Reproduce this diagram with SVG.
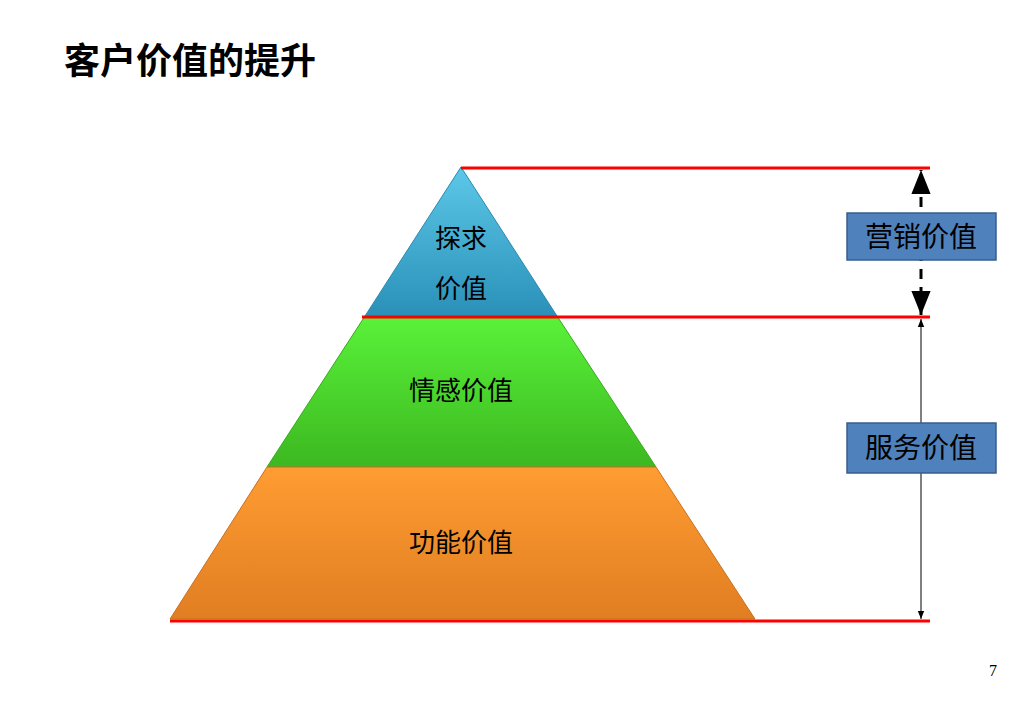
<svg xmlns="http://www.w3.org/2000/svg" width="1024" height="709" viewBox="0 0 1024 709">
<style>
.t{font-family:"Liberation Sans","Noto Sans CJK SC",sans-serif;fill:#000}
.red{stroke:#ff0000;stroke-width:3}
.box{fill:#4f81bd;stroke:#385d8a;stroke-width:1.5}
</style>
<defs>
<linearGradient id="gb" x1="0" y1="0" x2="0" y2="1"><stop offset="0" stop-color="#5cc8e8"/><stop offset="1" stop-color="#2a90b8"/></linearGradient>
<linearGradient id="gg" x1="0" y1="0" x2="0" y2="1"><stop offset="0" stop-color="#5af23a"/><stop offset="1" stop-color="#3cb820"/></linearGradient>
<linearGradient id="go" x1="0" y1="0" x2="0" y2="1"><stop offset="0" stop-color="#ff9c32"/><stop offset="1" stop-color="#e07e22"/></linearGradient>
<marker id="a" viewBox="0 0 10 10" refX="10" refY="5" markerWidth="8" markerHeight="8" orient="auto-start-reverse"><path d="M0,1 L10,5 L0,9 z" fill="#000"/></marker>
</defs>
<rect width="1024" height="709" fill="#fff"/>
<text x="64" y="74" class="t" font-size="36" font-weight="bold">客户价值的提升</text>
<g id="top"><polygon points="461,167 365,316 557,316" fill="url(#gb)" stroke="#2a8ab0"/><text x="461" y="248" class="t" font-size="26" text-anchor="middle">探求</text><text x="461" y="298" class="t" font-size="26" text-anchor="middle">价值</text></g>
<g id="mid"><polygon points="365,316 557,316 656,467 267,467" fill="url(#gg)" stroke="#38a820"/><text x="461" y="400" class="t" font-size="26" text-anchor="middle">情感价值</text></g>
<g id="bot"><polygon points="267,467 656,467 755,619 170,619" fill="url(#go)" stroke="#c87020"/><text x="461" y="552" class="t" font-size="26" text-anchor="middle">功能价值</text></g>
<g id="connectors">
<line class="red" x1="461" y1="168" x2="930" y2="168"/>
<line class="red" x1="362" y1="317" x2="930" y2="317"/>
<line class="red" x1="170" y1="621" x2="930" y2="621"/>
<line x1="921" y1="315" x2="921" y2="170" stroke="#000" stroke-width="3" stroke-dasharray="10,8" marker-end="url(#a)" marker-start="url(#a)"/>
<line x1="921" y1="319" x2="921" y2="619" stroke="#000" stroke-width="1" marker-end="url(#a)" marker-start="url(#a)"/>
</g>
<g id="b1"><rect class="box" x="847" y="213" width="149" height="47"/><text x="921" y="247" class="t" font-size="28" text-anchor="middle">营销价值</text></g>
<g id="b2"><rect class="box" x="847" y="423" width="149" height="50"/><text x="921" y="458" class="t" font-size="28" text-anchor="middle">服务价值</text></g>
<text x="993" y="676" font-family="Liberation Serif,serif" font-size="16" text-anchor="middle">7</text>
</svg>
